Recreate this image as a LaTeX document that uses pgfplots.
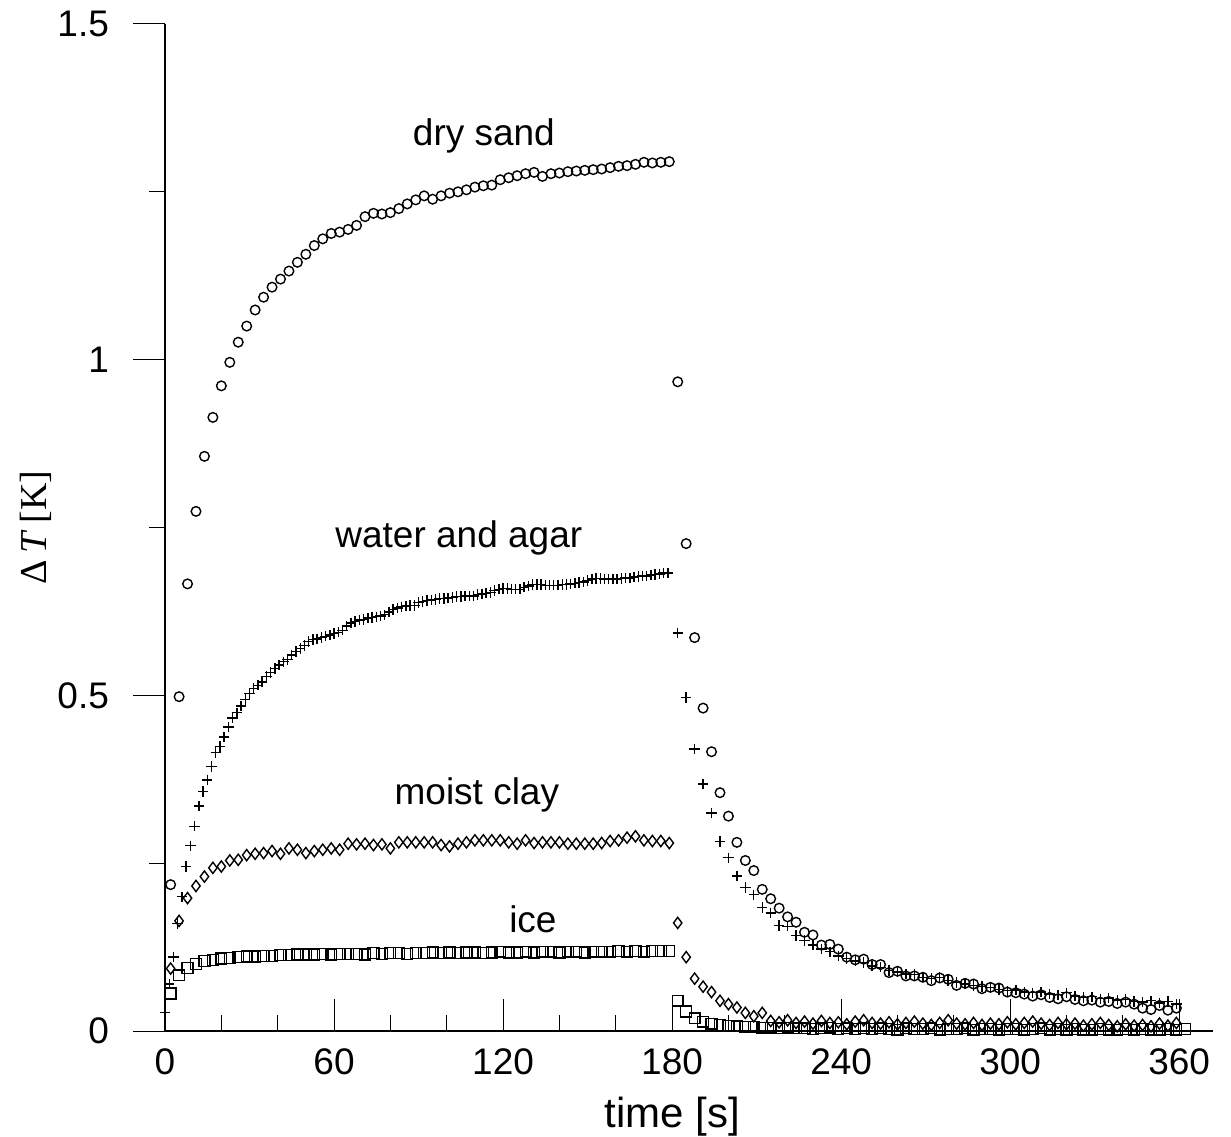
\documentclass[border=0pt]{standalone}
\usepackage{pgfplots}
\pgfplotsset{compat=1.18}
\usepackage{fontspec}
\setmainfont{Liberation Sans}
\newfontfamily\seriffont{Liberation Serif}
\begin{document}
\begin{tikzpicture}
\path[use as bounding box] (-82.5pt,-52.5pt) rectangle (533pt,515.5pt);
\begin{axis}[
  at={(0,0)}, anchor=south west, scale only axis,
  width=524pt, height=503.5pt,
  xmin=0, xmax=372, ymin=0, ymax=1.5,
  axis x line=bottom, axis y line=left,
  axis line style={-, line width=0.6pt},
  xtick={0,60,...,360},
  minor xtick={20,40,80,100,140,160,200,220,260,280,320,340},
  ytick={0,0.5,1,1.5}, yticklabels={0,0.5,1,1.5},
  minor ytick={0.25,0.75,1.25},
  xtick align=inside, ytick align=outside,
  major tick length=16pt, minor tick length=8pt,
  tick style={line width=0.5pt, black},
  ticklabel style={font=\fontsize{18.5}{20}\selectfont},
  yticklabel style={xshift=-8.5pt},
  xticklabel style={yshift=-5.5pt},
  /pgf/number format/assume math mode=true,
  clip=false,
  every axis plot/.append style={only marks, black, line width=0.7pt},
]
% dry sand
\addplot[mark=o, mark size=2.4pt] table {
2 0.218
5 0.498
8 0.666
11 0.774
14 0.856
17 0.914
20 0.961
23 0.996
26 1.026
29 1.050
32 1.074
35 1.093
38 1.108
41 1.120
44 1.132
47 1.145
50 1.157
53 1.170
56 1.180
59 1.188
62 1.190
65 1.194
68 1.200
71 1.213
74 1.218
77 1.217
80 1.219
83 1.225
86 1.232
89 1.238
92 1.244
95 1.239
98 1.244
101 1.248
104 1.250
107 1.253
110 1.257
113 1.259
116 1.260
119 1.268
122 1.271
125 1.274
128 1.277
131 1.279
134 1.273
137 1.277
140 1.278
143 1.280
146 1.281
149 1.282
152 1.283
155 1.284
158 1.286
161 1.288
164 1.289
167 1.291
170 1.294
173 1.293
176 1.294
179 1.295
182 0.967
185 0.726
188 0.586
191 0.481
194 0.416
197 0.355
200 0.320
203 0.281
206 0.254
209 0.239
212 0.211
215 0.197
218 0.183
221 0.170
224 0.162
227 0.147
230 0.143
233 0.128
236 0.129
239 0.122
242 0.110
245 0.106
248 0.107
251 0.099
254 0.099
257 0.087
260 0.089
263 0.082
266 0.082
269 0.080
272 0.075
275 0.079
278 0.077
281 0.068
284 0.071
287 0.070
290 0.063
293 0.065
296 0.064
299 0.058
302 0.057
305 0.055
308 0.052
311 0.054
314 0.050
317 0.048
320 0.051
323 0.047
326 0.045
329 0.046
332 0.043
335 0.044
338 0.041
341 0.043
344 0.040
347 0.034
350 0.032
353 0.038
356 0.031
359 0.034
};
% water and agar
\addplot[mark=+, mark size=2.6pt] table {
0 0.028
1.5 0.070
3 0.110
4.5 0.160
6 0.200
7.5 0.245
9 0.276
10.5 0.305
12 0.335
13.5 0.357
15 0.374
16.5 0.394
18 0.415
19.5 0.424
21 0.438
22.5 0.453
24 0.466
25.5 0.474
27 0.484
28.5 0.494
30 0.503
31.5 0.510
33 0.515
34.5 0.520
36 0.528
37.5 0.534
39 0.540
40.5 0.545
42 0.550
43.5 0.553
45 0.560
46.5 0.565
48 0.570
49.5 0.574
51 0.580
52.5 0.583
54 0.584
55.5 0.586
57 0.588
58.5 0.590
60 0.592
61.5 0.594
63 0.597
64.5 0.603
66 0.608
67.5 0.610
69 0.612
70.5 0.613
72 0.615
73.5 0.616
75 0.617
76.5 0.618
78 0.620
79.5 0.624
81 0.628
82.5 0.630
84 0.632
85.5 0.633
87 0.634
88.5 0.634
90 0.638
91.5 0.640
93 0.641
94.5 0.642
96 0.643
97.5 0.644
99 0.644
100.5 0.645
102 0.646
103.5 0.647
105 0.647
106.5 0.648
108 0.648
109.5 0.648
111 0.650
112.5 0.651
114 0.652
115.5 0.653
117 0.656
118.5 0.658
120 0.659
121.5 0.659
123 0.658
124.5 0.658
126 0.658
127.5 0.661
129 0.663
130.5 0.665
132 0.665
133.5 0.665
135 0.664
136.5 0.664
138 0.664
139.5 0.664
141 0.665
142.5 0.665
144 0.666
145.5 0.667
147 0.668
148.5 0.669
150 0.671
151.5 0.673
153 0.674
154.5 0.674
156 0.673
157.5 0.673
159 0.673
160.5 0.673
162 0.674
163.5 0.675
165 0.675
166.5 0.676
168 0.677
169.5 0.678
171 0.678
172.5 0.679
174 0.680
175.5 0.681
177 0.682
178.5 0.682
182 0.593
185 0.497
188 0.420
191 0.368
194 0.325
197 0.282
200 0.258
203 0.231
206 0.214
209 0.203
212 0.184
215 0.176
218 0.157
221 0.156
224 0.142
227 0.135
230 0.128
233 0.122
236 0.118
239 0.112
242 0.108
245 0.104
248 0.102
251 0.097
254 0.095
257 0.090
260 0.088
263 0.085
266 0.084
269 0.080
272 0.078
275 0.080
278 0.075
281 0.072
284 0.070
287 0.068
290 0.066
293 0.065
296 0.062
299 0.060
302 0.061
305 0.058
308 0.057
311 0.058
314 0.055
317 0.054
320 0.057
323 0.052
326 0.050
329 0.051
332 0.048
335 0.049
338 0.046
341 0.047
344 0.044
347 0.043
350 0.045
353 0.042
356 0.044
359 0.040
};
% moist clay
\addplot[mark=diamond, mark size=2.8pt] table {
2 0.093
5 0.164
8 0.198
11 0.216
14 0.230
17 0.243
20 0.245
23 0.254
26 0.255
29 0.262
32 0.264
35 0.265
38 0.268
41 0.264
44 0.272
47 0.270
50 0.265
53 0.268
56 0.270
59 0.272
62 0.270
65 0.279
68 0.278
71 0.279
74 0.277
77 0.278
80 0.272
83 0.281
86 0.281
89 0.281
92 0.281
95 0.281
98 0.277
101 0.275
104 0.279
107 0.281
110 0.284
113 0.284
116 0.284
119 0.284
122 0.281
125 0.279
128 0.284
131 0.280
134 0.281
137 0.281
140 0.281
143 0.279
146 0.279
149 0.279
152 0.279
155 0.280
158 0.283
161 0.284
164 0.288
167 0.290
170 0.284
173 0.283
176 0.283
179 0.280
182 0.161
185 0.110
188 0.078
191 0.066
194 0.058
197 0.045
200 0.040
203 0.035
206 0.027
209 0.022
212 0.027
215 0.015
218 0.013
221 0.016
224 0.012
227 0.014
230 0.011
233 0.015
236 0.012
239 0.013
242 0.010
245 0.014
248 0.016
251 0.012
254 0.011
257 0.013
260 0.010
263 0.012
266 0.014
269 0.011
272 0.009
275 0.012
278 0.016
281 0.011
284 0.010
287 0.012
290 0.009
293 0.011
296 0.010
299 0.013
302 0.010
305 0.012
308 0.014
311 0.011
314 0.009
317 0.012
320 0.010
323 0.011
326 0.008
329 0.010
332 0.012
335 0.009
338 0.007
341 0.010
344 0.008
347 0.009
350 0.007
353 0.011
356 0.008
359 0.012
};
% ice
\addplot[mark=square, mark size=2.7pt] table {
2 0.056
5 0.083
8 0.094
11 0.100
14 0.104
17 0.106
20 0.108
23 0.109
26 0.110
29 0.111
32 0.111
35 0.112
38 0.112
41 0.113
44 0.113
47 0.114
50 0.114
53 0.114
56 0.115
59 0.114
62 0.115
65 0.115
68 0.115
71 0.114
74 0.116
77 0.115
80 0.116
83 0.116
86 0.115
89 0.116
92 0.116
95 0.117
98 0.116
101 0.117
104 0.116
107 0.117
110 0.117
113 0.116
116 0.117
119 0.118
122 0.117
125 0.117
128 0.118
131 0.117
134 0.118
137 0.118
140 0.117
143 0.118
146 0.118
149 0.117
152 0.118
155 0.118
158 0.118
161 0.119
164 0.118
167 0.119
170 0.118
173 0.119
176 0.119
179 0.119
182 0.045
185 0.029
188 0.019
191 0.014
194 0.011
197 0.009
200 0.008
203 0.007
206 0.006
209 0.006
212 0.005
215 0.005
218 0.004
221 0.005
224 0.004
227 0.004
230 0.003
233 0.004
236 0.005
239 0.003
242 0.004
245 0.003
248 0.004
251 0.003
254 0.004
257 0.003
260 0.002
263 0.004
266 0.003
269 0.003
272 0.004
275 0.002
278 0.003
281 0.003
284 0.004
287 0.002
290 0.003
293 0.003
296 0.002
299 0.003
302 0.003
305 0.002
308 0.003
311 0.004
314 0.002
317 0.003
320 0.002
323 0.003
326 0.002
329 0.002
332 0.003
335 0.002
338 0.002
341 0.003
344 0.002
347 0.003
350 0.002
353 0.002
356 0.003
359 0.002
362 0.003
};
\node[anchor=base, font=\fontsize{18.5}{20}\selectfont] at (axis cs:113.2,1.319) {dry sand};
\node[anchor=base, font=\fontsize{18.5}{20}\selectfont] at (axis cs:104.3,0.720) {water and agar};
\node[anchor=base, font=\fontsize{18.5}{20}\selectfont] at (axis cs:110.7,0.337) {moist clay};
\node[anchor=base, font=\fontsize{18.5}{20}\selectfont] at (axis cs:130.6,0.146) {ice};
\node[anchor=base, font=\fontsize{21}{24}\selectfont, yshift=-48pt] at (axis cs:180,0) {time [s]};
\node[rotate=90, font=\seriffont\fontsize{19}{22}\selectfont] at ([xshift=-64.5pt]axis cs:0,0.75) {Δ\,\textit{T}\,[K]};
\end{axis}
\end{tikzpicture}
\end{document}
